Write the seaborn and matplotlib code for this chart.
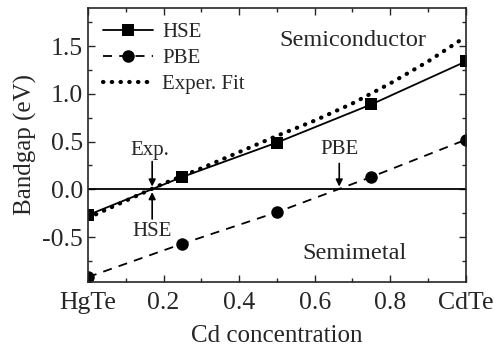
import matplotlib
matplotlib.use("Agg")
import matplotlib.pyplot as plt
import seaborn as sns
import pandas as pd
from matplotlib.ticker import MultipleLocator

# data
cd_calc = [0.0, 0.25, 0.5, 0.75, 1.0]
hse_gap = [-0.27, 0.13, 0.49, 0.89, 1.34]
pbe_gap = [-0.92, -0.57, -0.24, 0.13, 0.52]
cd_fit = [0.0, 0.1, 0.2, 0.3, 0.4, 0.5, 0.6, 0.7, 0.8, 0.9, 1.0]
fit_gap = [-0.30, -0.12, 0.06, 0.22, 0.39, 0.56, 0.72, 0.90, 1.11, 1.34, 1.60]
x_ticks = [0.0, 0.2, 0.4, 0.6, 0.8, 1.0]
x_labels = ["HgTe", "0.2", "0.4", "0.6", "0.8", "CdTe"]

sns.set_style("ticks")
plt.rcParams["font.family"] = ["Liberation Serif", "DejaVu Serif"]

calc = pd.DataFrame({"x": cd_calc, "HSE": hse_gap, "PBE": pbe_gap})
fit = pd.DataFrame({"x": cd_fit, "fit": fit_gap})

fig, ax = plt.subplots(figsize=(4.94, 3.48), dpi=100)

ax.axhline(0, color="black", lw=1.3, zorder=1)
sns.lineplot(data=calc, x="x", y="HSE", ax=ax, color="black", lw=1.3,
             marker="s", markersize=8.5, markeredgewidth=0, label="HSE")
sns.lineplot(data=calc, x="x", y="PBE", ax=ax, color="black", lw=1.3,
             linestyle=(0, (5, 4)), marker="o", markersize=9,
             markeredgewidth=0, label="PBE")
sns.lineplot(data=fit, x="x", y="fit", ax=ax, color="black", lw=3.0,
             linestyle=(0, (0.1, 2.0)), dash_capstyle="round",
             label="Exper. Fit")

ax.set_xlim(0, 1)
ax.set_ylim(-0.97, 1.9)
ax.set_xticks(x_ticks)
ax.set_xticklabels(x_labels)
ax.set_yticks([-0.5, 0.0, 0.5, 1.0, 1.5])
ax.set_yticklabels(["-0.5", "0.0", "0.5", "1.0", "1.5"])
ax.xaxis.set_minor_locator(MultipleLocator(0.1))
ax.yaxis.set_minor_locator(MultipleLocator(0.25))
ax.tick_params(which="both", direction="in", top=True, right=True,
               labelsize=18.5, width=1)
ax.tick_params(axis="x", pad=7)
ax.tick_params(which="major", length=5)
ax.tick_params(which="minor", length=3)
for s in ax.spines.values():
    s.set_linewidth(1.2)

ax.set_xlabel("Cd concentration", fontsize=18, labelpad=8)
ax.set_ylabel("Bandgap (eV)", fontsize=18, labelpad=4)

ax.legend(loc="upper left", frameon=False, fontsize=15, handlelength=2.4,
          borderaxespad=0.3, labelspacing=0.3, handletextpad=0.45)

arrow = dict(arrowstyle="-|>", color="black", lw=1.2, mutation_scale=10)
ax.text(0.163, 0.41, "Exp.", fontsize=15, ha="center", va="center")
ax.annotate("", xy=(0.17, 0.0), xytext=(0.17, 0.32), arrowprops=arrow)
ax.annotate("", xy=(0.17, 0.0), xytext=(0.17, -0.34), arrowprops=arrow)
ax.text(0.17, -0.44, "HSE", fontsize=15, ha="center", va="center")
ax.annotate("", xy=(0.665, 0.0), xytext=(0.665, 0.3), arrowprops=arrow)
ax.text(0.665, 0.42, "PBE", fontsize=15, ha="center", va="center")
ax.text(0.70, 1.56, "Semiconductor", fontsize=17.5, ha="center", va="center")
ax.text(0.706, -0.67, "Semimetal", fontsize=17.5, ha="center", va="center")

fig.subplots_adjust(left=0.178, right=0.943, top=0.977, bottom=0.19)
fig.savefig("out.png", dpi=100)
